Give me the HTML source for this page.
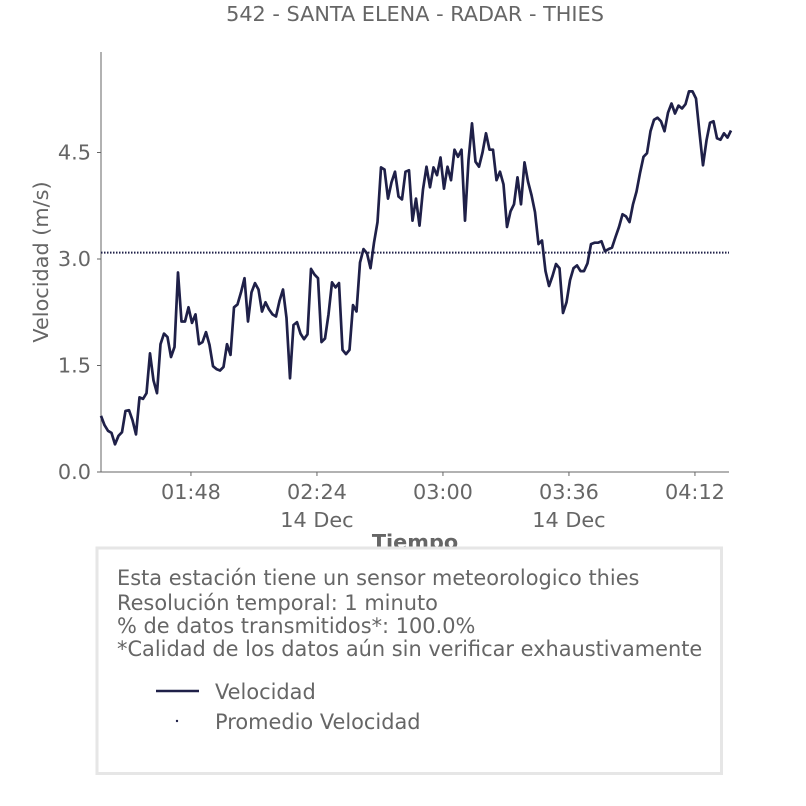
<!DOCTYPE html>
<html><head><meta charset="utf-8"><style>
html,body{margin:0;padding:0;background:#fff;}
svg{display:block;font-family:"DejaVu Sans","Liberation Sans",sans-serif;}
</style></head><body>
<svg id="chart" width="806" height="806" viewBox="0 0 806 806">
<text x="415" y="21" text-anchor="middle" font-size="20.8" fill="#666">542 - SANTA ELENA - RADAR - THIES</text>
<g id="axes"></g>
<g id="series"></g>
<text x="415" y="549" text-anchor="middle" font-size="20.8" font-weight="bold" fill="#666">Tiempo</text>
<text transform="translate(48,262) rotate(-90)" text-anchor="middle" font-size="20.8" fill="#666">Velocidad (m/s)</text>
<g>
<rect x="97" y="548" width="624.5" height="225.5" fill="#fff" stroke="#e6e6e6" stroke-width="3"/>
<g font-size="20.9" fill="#666">
<text x="117" y="585">Esta estación tiene un sensor meteorologico thies</text>
<text x="117" y="610">Resolución temporal: 1 minuto</text>
<text x="117" y="633">% de datos transmitidos*: 100.0%</text>
<text x="117" y="656">*Calidad de los datos aún sin verificar exhaustivamente</text>
<line x1="156" y1="691" x2="199" y2="691" stroke="#1f2048" stroke-width="2.5"/>
<text x="215" y="699">Velocidad</text>
<circle cx="177" cy="721" r="1.2" fill="#1f2048"/>
<text x="215" y="729">Promedio Velocidad</text>
</g></g>
</svg>
<script>
const values=[0.79,0.66,0.58,0.55,0.39,0.51,0.56,0.86,0.87,0.73,0.53,1.05,1.03,1.11,1.67,1.29,1.11,1.80,1.95,1.90,1.62,1.76,2.81,2.12,2.12,2.32,2.10,2.22,1.80,1.83,1.97,1.79,1.49,1.45,1.43,1.48,1.80,1.65,2.32,2.36,2.53,2.73,2.12,2.53,2.66,2.57,2.26,2.39,2.29,2.22,2.19,2.41,2.57,2.17,1.32,2.07,2.11,1.95,1.87,1.94,2.86,2.78,2.73,1.83,1.88,2.22,2.67,2.60,2.66,1.72,1.66,1.72,2.35,2.26,2.95,3.14,3.08,2.87,3.23,3.52,4.29,4.26,3.85,4.08,4.23,3.88,3.84,4.23,4.25,3.54,3.85,3.47,3.98,4.30,4.01,4.29,4.18,4.43,3.99,4.30,4.11,4.54,4.44,4.54,3.54,4.39,4.91,4.37,4.30,4.50,4.77,4.54,4.54,4.11,4.23,4.05,3.45,3.67,3.77,4.15,3.77,4.36,4.09,3.90,3.66,3.21,3.26,2.83,2.62,2.76,2.93,2.87,2.24,2.39,2.70,2.87,2.91,2.83,2.83,2.94,3.21,3.23,3.23,3.25,3.11,3.14,3.16,3.31,3.45,3.63,3.60,3.52,3.77,3.95,4.21,4.44,4.49,4.80,4.96,4.99,4.94,4.80,5.06,5.19,5.05,5.16,5.12,5.18,5.36,5.36,5.26,4.78,4.32,4.67,4.92,4.94,4.70,4.68,4.77,4.71,4.81];
const meanValue=3.09;
const yTicks=[0.0,1.5,3.0,4.5];
const yTickLabels=["0.0","1.5","3.0","4.5"];
const xTickMinutes=[25.7,61.7,97.7,133.7,169.7];
const xTickLabels=["01:48","02:24","03:00","03:36","04:12"];
const xDateLabels=["","14 Dec","","14 Dec",""];

const NS="http://www.w3.org/2000/svg";
const L=101,R=729,T=52,B=472;
const xs=i=>L+i*3.5;
const ys=v=>B-v*(B-259)/3.0;
function mk(tag,attrs,parent){const e=document.createElementNS(NS,tag);for(const k in attrs)e.setAttribute(k,attrs[k]);parent.appendChild(e);return e;}
const axes=document.getElementById('axes'),series=document.getElementById('series');
let e=mk('line',{x1:L,y1:T,x2:L,y2:B,stroke:'#666','stroke-width':1},axes);


e=mk('line',{x1:L,y1:B,x2:R,y2:B,stroke:'#666','stroke-width':1},axes);


yTicks.forEach((v,i)=>{
 const y=ys(v);
 let t=mk('line',{x1:L-4,y1:y,x2:L,y2:y,stroke:'#666'},axes);
 
 
 let tx=mk('text',{x:L-10,y:y+7,'text-anchor':'end','font-size':20.8,fill:'#666'},axes);
 tx.textContent=yTickLabels[i];
 
 
});
xTickMinutes.forEach((m,i)=>{
 const x=xs(m);
 let t=mk('line',{x1:x,y1:B,x2:x,y2:B+4,stroke:'#666'},axes);
 
 
 let tx=mk('text',{x:x,y:B+27,'text-anchor':'middle','font-size':20.8,fill:'#666'},axes);
 tx.textContent=xTickLabels[i];
 
 
 if(xDateLabels[i]){
  let d=mk('text',{x:x,y:B+55,'text-anchor':'middle','font-size':20.8,fill:'#666'},axes);
  d.textContent=xDateLabels[i];
  
  
 }
});
let mean=mk('line',{x1:L,y1:ys(meanValue),x2:R,y2:ys(meanValue),stroke:'#1f2048','stroke-width':2,'stroke-dasharray':'1.5 1.5'},series);


let pts=values.map((v,i)=>xs(i).toFixed(1)+','+ys(v).toFixed(1)).join(' ');
let pl=mk('polyline',{points:pts,fill:'none',stroke:'#1f2048','stroke-width':2.7,'stroke-linejoin':'round'},series);


</script>
</body></html>
